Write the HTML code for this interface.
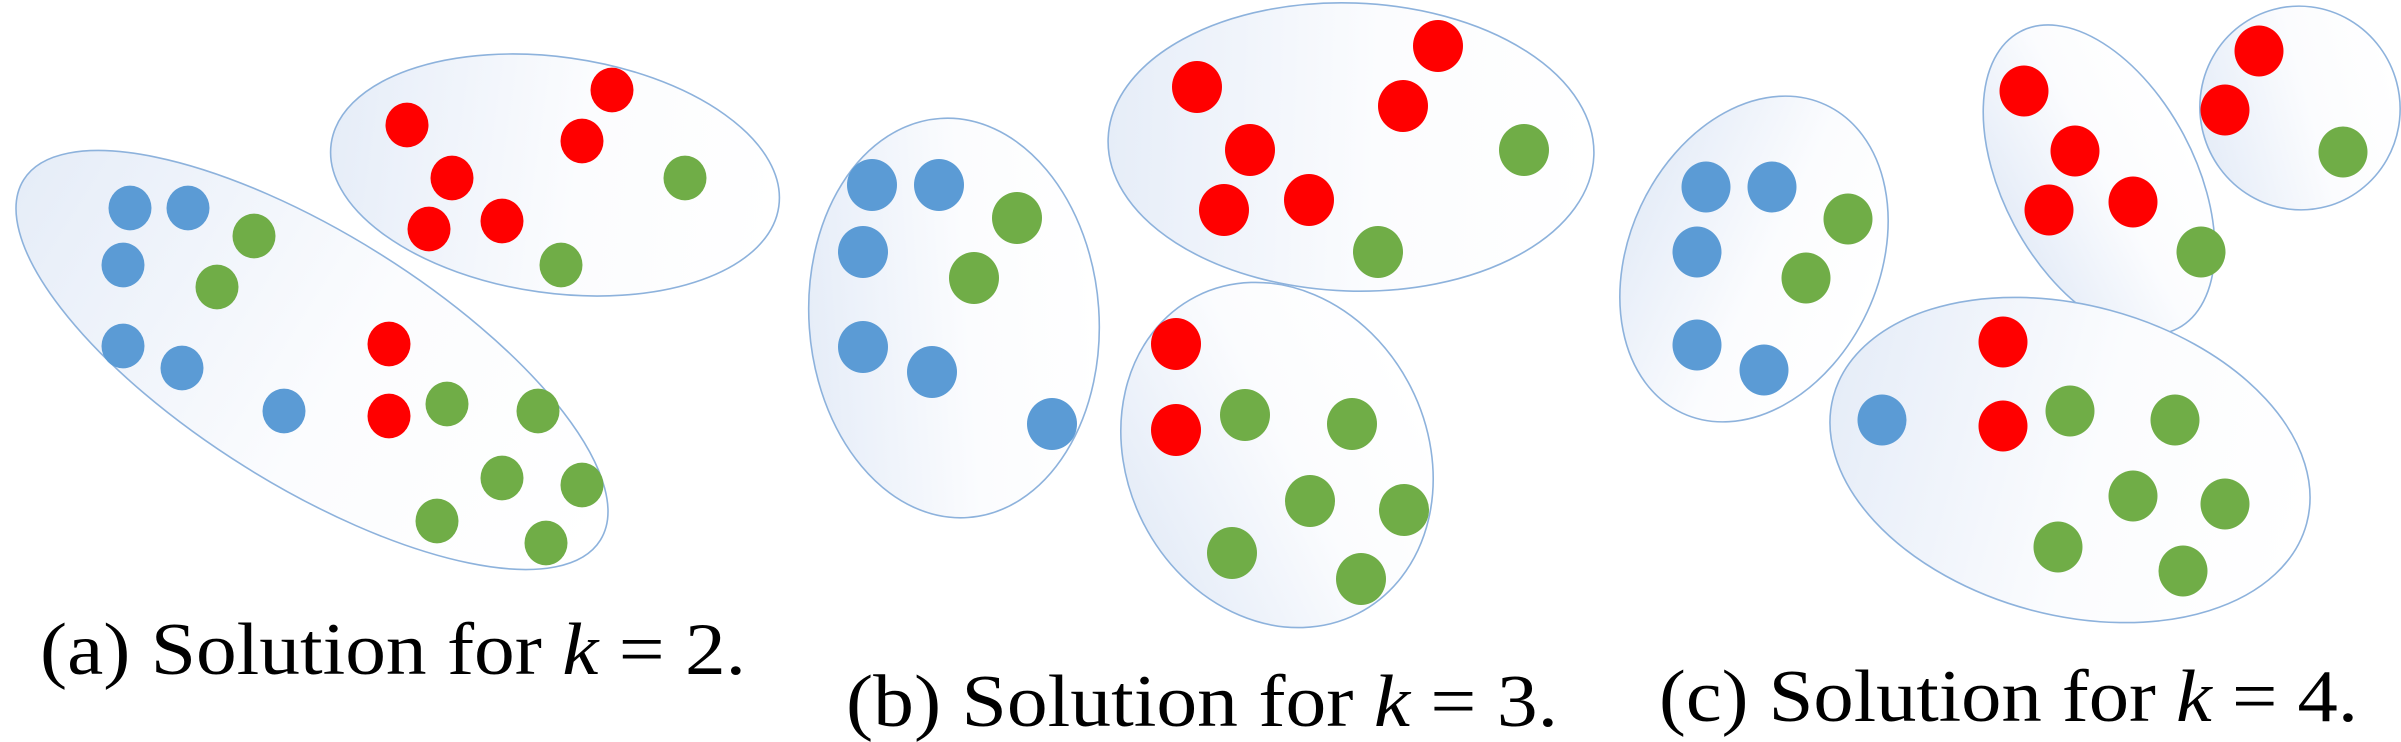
<!DOCTYPE html>
<html><head><meta charset="utf-8"><style>
html,body{margin:0;padding:0;background:#fff;width:2401px;height:742px;overflow:hidden}
svg{display:block}
</style></head><body>
<svg id="fig" width="2401" height="742" viewBox="0 0 2401 742" xmlns="http://www.w3.org/2000/svg">
<defs>
<linearGradient id="eg" x1="0" y1="0.5" x2="1" y2="0.5">
<stop offset="0" stop-color="#e6edf8"/><stop offset="0.55" stop-color="#fbfcfe"/><stop offset="1" stop-color="#ffffff"/>
</linearGradient>
</defs>
<g id="ells"></g>
<g id="pts"></g>
<g font-family="'Liberation Serif', serif" font-size="74" fill="#000">
<text x="40" y="674" textLength="706" lengthAdjust="spacingAndGlyphs">(a) Solution for <tspan font-style="italic">k</tspan> = 2.</text>
<text x="846" y="726" textLength="712" lengthAdjust="spacingAndGlyphs">(b) Solution for <tspan font-style="italic">k</tspan> = 3.</text>
<text x="1659" y="721" textLength="699" lengthAdjust="spacingAndGlyphs">(c) Solution for <tspan font-style="italic">k</tspan> = 4.</text>
</g>
</svg>
<script>
const NS = "http://www.w3.org/2000/svg";
const COLORS = {b:"#5b9bd5", g:"#70ad47", r:"#ff0000"};
// Panel a (k=2)
const aX = [130,188,123,123,182,284, 254,217,685,561,447,538,502,582,437,546, 612,407,582,452,429,502,389,389];
const aY = [208,208,265,346,368,411, 236,287,178,265,404,411,478,485,521,543, 90,125,141,178,229,221,344,416];
const aC = ["b","b","b","b","b","b","g","g","g","g","g","g","g","g","g","g","r","r","r","r","r","r","r","r"];
// Panel b (k=3)
const bX = [872,939,863,863,932,1052, 1017,974,1524,1378,1245,1352,1310,1404,1232,1361, 1438,1197,1403,1250,1224,1309,1176,1176];
const bY = [185,185,252,347,372,424, 218,278,150,252,415,424,501,510,553,579, 46,87,106,150,210,200,344,430];
// Panel c (k=4)
const cX = [1706,1772,1697,1697,1764,1882, 1848,1806,2343,2201,2070,2175,2133,2225,2058,2183, 2259,2225,2024,2075,2049,2133,2003,2003];
const cY = [187,187,252,345,370,420, 219,278,152,252,411,420,496,504,547,571, 51,110,91,151,210,202,342,426];
// Cluster ellipses: cx, cy, rx, ry, rotation
const ellA = [[312,360,340,126,32],[555,175,226,118,8]];
const ellB = [[954,318,145,200,-4],[1351,147,243,144,2],[1277,455,150,178,-27]];
const ellC = [[1754,259,125,170,25],[2099,180,96,168,-28],[2300,108,100,102,-15],[2070,460,245,155,15]];

const eg = document.getElementById("ells");
function drawEll(list){
  list.forEach((e)=>{
    const el = document.createElementNS(NS,"ellipse");
    el.setAttribute("cx",e[0]); el.setAttribute("cy",e[1]);
    el.setAttribute("rx",e[2]); el.setAttribute("ry",e[3]);
    el.setAttribute("transform",`rotate(${e[4]} ${e[0]} ${e[1]})`);
    el.setAttribute("fill","url(#eg)"); el.setAttribute("stroke","#8db2dc"); el.setAttribute("stroke-width","1.6");
    
    
    eg.appendChild(el);
  });
}
drawEll(ellA); drawEll(ellB); drawEll(ellC);

const pg = document.getElementById("pts");
function drawPts(xs, ys, r){
  xs.forEach((x,i)=>{
    const c = document.createElementNS(NS,"ellipse");
    c.setAttribute("cx",x); c.setAttribute("cy",ys[i]);
    c.setAttribute("rx",r); c.setAttribute("ry",r*1.04);
    c.setAttribute("fill",COLORS[aC[i]]);
    
    
    pg.appendChild(c);
  });
}
drawPts(aX,aY,21.5); drawPts(bX,bY,25); drawPts(cX,cY,24.5);
</script>
</body></html>
